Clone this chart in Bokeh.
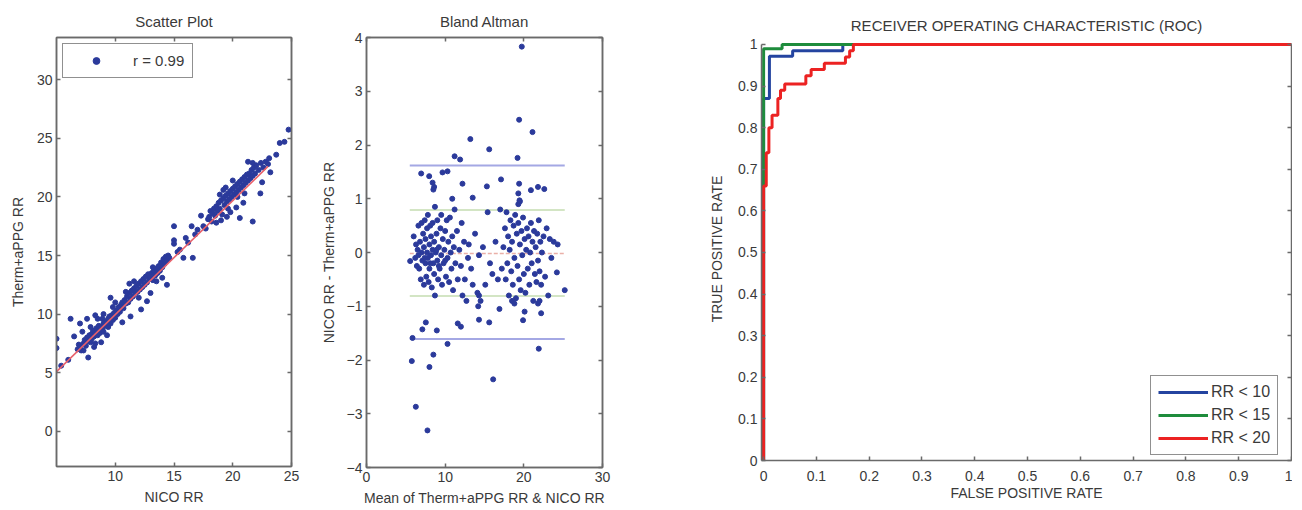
from bokeh.plotting import figure
from bokeh.layouts import row
from bokeh.models import LinearAxis, FixedTicker, Legend, LegendItem, Range1d
from bokeh.embed import file_html
from bokeh.resources import INLINE

# ---------------- data: scatter (NICO RR vs Therm+aPPG RR) ----------------
scatter_pairs = [
    (5.0, 7.9), (5.0, 7.1), (5.4, 5.6), (6.0, 6.1),
    (6.8, 7.0), (7.0, 7.2), (7.1, 6.9), (7.3, 7.5), (7.4, 7.8), (7.5, 7.3), (7.6, 8.0), (7.7, 7.7),
    (7.8, 8.2), (7.9, 7.6), (8.0, 8.3), (8.0, 7.9), (8.1, 8.6), (8.2, 8.1), (8.3, 8.4), (8.3, 7.5),
    (8.4, 8.8), (8.5, 8.2), (8.6, 8.6), (8.6, 9.0), (8.7, 8.4), (8.8, 8.9), (8.9, 8.7), (9.0, 9.2),
    (9.0, 8.5), (9.1, 9.4), (9.2, 9.0), (9.3, 9.3), (9.4, 9.6), (9.4, 8.9), (9.5, 9.8), (9.6, 9.2),
    (9.7, 9.9), (9.8, 9.5), (9.9, 10.1), (10.0, 9.7), (10.1, 10.3), (10.2, 10.0), (10.3, 10.6),
    (10.4, 10.2), (10.5, 10.8), (7.2, 8.5), (7.9, 8.9), (8.5, 9.6), (9.0, 10.0), (9.6, 11.4),
    (6.2, 9.6), (6.5, 8.1), (7.0, 9.2), (7.6, 9.6), (8.3, 9.9), (7.7, 6.3), (8.2, 7.2), (8.8, 7.6),
    (9.3, 8.2), (6.9, 7.4), (7.3, 6.9), (8.9, 9.6), (9.8, 10.6), (10.0, 11.0),
    (10.6, 11.0), (10.7, 10.5), (10.8, 11.2), (10.9, 10.9), (11.0, 11.5), (11.1, 11.0), (11.2, 11.8),
    (11.3, 11.3), (11.4, 12.0), (11.5, 11.5), (11.6, 12.2), (11.7, 11.8), (11.8, 12.4), (11.9, 11.9),
    (12.0, 12.6), (12.1, 12.1), (12.2, 12.8), (12.3, 12.3), (12.4, 13.0), (12.5, 12.5), (12.6, 13.2),
    (12.7, 12.7), (12.8, 13.4), (12.9, 13.0), (13.0, 13.1), (13.1, 13.5), (13.2, 12.9), (13.3, 13.7),
    (13.4, 13.3), (13.5, 13.9), (13.6, 13.5), (13.7, 14.1), (13.8, 13.7), (13.9, 14.4), (14.0, 14.0),
    (14.1, 14.7), (14.2, 14.3), (14.3, 14.9), (14.4, 14.6), (14.5, 15.0), (14.6, 14.8), (11.2, 12.6),
    (11.6, 12.8), (10.6, 9.3), (11.3, 9.8), (12.2, 10.4), (12.7, 11.1), (13.0, 11.8), (13.5, 12.8),
    (14.4, 12.5), (14.0, 13.1), (12.0, 11.4), (13.2, 14.0), (10.9, 11.9),
    (15.0, 17.5), (15.0, 16.3), (15.0, 16.0), (15.3, 15.3), (15.5, 15.5), (15.8, 14.8), (16.2, 16.1),
    (16.6, 14.8), (16.5, 17.5), (16.8, 16.8), (17.0, 17.2), (17.3, 18.4), (17.5, 17.5), (17.7, 17.3),
    (17.9, 18.1), (16.0, 16.5),
    (18.0, 18.3), (18.1, 18.8), (18.2, 17.9), (18.3, 18.6), (18.4, 19.0), (18.5, 18.4), (18.6, 19.2),
    (18.7, 18.8), (18.8, 19.5), (18.9, 19.0), (19.0, 19.7), (19.1, 18.5), (19.2, 19.9), (19.3, 19.3),
    (19.4, 20.1), (19.5, 19.6), (19.6, 20.3), (19.7, 19.8), (19.8, 20.5), (19.9, 20.0), (20.0, 20.7),
    (20.1, 20.2), (20.2, 20.9), (20.3, 20.4), (20.4, 21.1), (20.5, 20.6), (20.6, 21.3), (20.7, 20.8),
    (20.8, 21.5), (20.9, 21.0), (21.0, 21.7), (21.1, 21.2), (21.2, 21.9), (21.3, 21.4), (21.4, 22.0),
    (21.5, 21.6), (21.6, 22.3), (21.7, 21.8), (21.8, 22.5), (21.9, 22.0), (22.0, 22.7), (22.2, 22.3),
    (22.4, 22.9), (22.6, 22.5), (22.8, 23.0), (21.3, 23.0), (21.7, 22.9), (19.0, 18.0), (19.5, 18.3),
    (19.8, 18.7), (20.3, 19.1), (20.6, 18.2), (20.9, 19.5), (21.7, 17.9), (22.35, 20.3), (22.5, 21.25),
    (19.4, 20.8), (19.2, 20.6), (18.9, 20.2), (20.0, 21.4), (20.4, 20.0), (21.0, 20.3), (18.6, 17.8),
    (19.6, 19.0),
    (23.1, 23.3), (23.2, 22.1), (23.7, 23.6), (24.0, 24.6), (24.4, 24.7), (24.75, 25.74), (23.0, 22.8),
]
nico_rr = [a for a, b in scatter_pairs]
therm_rr = [b for a, b in scatter_pairs]
fit_x = [5.0, 23.0]
fit_y = [5.1, 22.6]
r_label = "r = 0.99"
scatter_xticks = [10, 15, 20, 25]
scatter_yticks = [0, 5, 10, 15, 20, 25, 30]

# ---------------- data: Bland-Altman ----------------
ba_pairs = [
    (6.0, 0.3), (6.2, -0.1), (6.3, 0.15), (6.4, -0.25), (6.5, 0.05), (6.6, 0.5), (6.7, -0.3),
    (6.8, 0.2), (6.9, -0.5), (7.0, 0.0), (7.0, 0.55), (7.1, -0.15), (7.2, 0.35), (7.3, -0.6),
    (7.3, 0.1), (7.4, 0.6), (7.5, -0.2), (7.5, 0.25), (7.6, -0.45), (7.7, 0.45), (7.7, 0.0),
    (7.8, -0.1), (7.8, 0.7), (7.9, -0.55), (8.0, 0.15), (8.0, -0.3), (8.1, 0.5), (8.2, -0.05),
    (8.2, 0.3), (8.3, -0.65), (8.4, 0.05), (8.4, 0.55), (8.5, -0.2), (8.6, 0.2), (8.6, -0.4),
    (8.7, 0.85), (8.8, 0.0), (8.7, -0.8), (8.9, 0.35), (9.0, -0.15), (9.0, 0.6), (9.1, -0.5),
    (9.2, 0.1), (9.3, -0.3), (9.4, 0.45), (9.5, -0.05), (9.5, 0.7), (9.6, -0.6), (9.7, 0.25),
    (9.8, -0.2), (9.9, 0.05), (10.0, 0.4), (10.1, -0.45), (10.2, 0.6), (10.3, -0.1), (10.4, 0.2),
    (10.5, -0.55), (10.6, 0.65), (10.7, 0.0), (10.8, -0.3), (10.9, 0.3), (11.0, -0.7), (11.1, 0.1),
    (11.2, 0.8), (11.3, -0.2), (11.5, 0.4), (11.6, -0.5), (11.8, 0.05), (12.0, -0.25), (12.1, 0.55),
    (12.2, -0.8), (12.4, 0.2), (12.5, -0.5), (12.7, -0.9), (12.9, -0.1), (13.0, 0.15), (13.3, -0.3),
    (13.5, -0.6), (7.4, -0.1), (8.1, -0.2), (9.2, -0.25), (10.0, -0.15), (6.6, -0.05), (8.9, 0.05),
    (13.8, 0.35), (14.1, -0.75), (14.3, -0.05), (14.5, -0.9), (14.8, 0.1), (15.1, -0.6), (15.4, 0.75),
    (15.7, -0.2), (16.0, -0.4), (16.4, 0.2), (16.7, -0.5), (17.0, 0.8), (17.2, -0.3), (17.4, 0.1),
    (17.6, 0.45), (17.7, -0.5), (17.8, 0.75), (17.9, -0.2), (18.0, 0.3), (18.1, -0.8), (18.2, 0.05),
    (18.3, 0.6), (18.4, -0.35), (18.5, 0.2), (18.6, -0.6), (18.7, 0.5), (18.8, -0.1), (18.9, 0.7),
    (19.0, -0.85), (19.1, 0.35), (19.2, -0.25), (19.3, 0.55), (19.3, 0.9), (19.4, -0.5), (19.5, 0.15),
    (19.5, 0.95), (19.6, -0.7), (19.7, 0.4), (19.8, -0.05), (19.9, 0.65), (20.0, -0.4), (20.1, 0.25),
    (20.2, -0.75), (20.3, 0.05), (20.4, 0.45), (20.5, -0.3), (20.6, 0.3), (20.7, -0.6), (20.8, 0.0),
    (20.9, 0.55), (21.0, -0.2), (21.1, 0.2), (21.2, -0.9), (21.3, 0.4), (21.4, -0.4), (21.5, 0.1),
    (21.6, -0.55), (21.7, 0.35), (21.8, -0.15), (21.9, 0.6), (22.0, -0.35), (22.1, 0.2), (22.2, -0.6),
    (22.3, 0.0), (22.5, 0.3), (22.7, -0.45), (22.9, 0.45), (23.1, -0.8), (23.3, 0.25), (23.5, -0.1),
    (23.8, 0.2), (24.3, 0.15),
    (19.74, 3.83), (19.4, 2.47), (21.1, 2.24), (13.2, 2.11), (15.6, 1.92), (19.2, 1.76), (11.2, 1.79),
    (11.9, 1.73), (6.95, 1.47), (7.97, 1.42), (9.66, 1.49), (10.3, 1.51), (8.4, 1.3), (8.6, 1.22),
    (8.5, 1.17), (12.2, 1.28), (15.3, 1.23), (17.1, 1.36), (19.4, 1.28), (20.9, 1.16), (21.8, 1.22),
    (22.6, 1.18), (13.5, 1.02), (10.9, 1.0), (19.3, 1.1), (19.45, 0.97),
    (5.76, -2.02), (6.27, -2.87), (7.75, -3.31), (8.0, -2.13), (8.5, -1.9), (5.85, -1.59), (7.54, -1.3),
    (7.1, -1.43), (8.94, -1.45), (10.3, -1.7), (11.6, -1.32), (12.0, -1.38), (14.3, -1.25), (15.6, -1.3),
    (16.1, -2.36), (19.9, -1.26), (21.9, -1.79), (16.9, -1.05), (25.2, -0.7), (24.2, -0.37), (22.2, -1.13),
    (20.1, -1.1), (5.55, -0.16), (14.2, -1.0), (14.3, -0.8), (18.5, -0.9), (18.8, -0.95), (21.8, -0.95),
    (22.0, -0.9),
]
ba_mean = [a for a, b in ba_pairs]
ba_diff = [b for a, b in ba_pairs]
ba_span = [5.5, 25.2]
ba_bias = -0.02
ba_sd1 = [0.79, -0.81]
ba_sd2 = [1.62, -1.61]
ba_xticks = [0, 10, 20, 30]
ba_yticks = [-4, -3, -2, -1, 0, 1, 2, 3, 4]

# ---------------- data: ROC ----------------
roc_labels = ["RR < 10", "RR < 15", "RR < 20"]
roc_fpr_10 = [0, 0, 0.011, 0.011, 0.055, 0.055, 0.15, 0.15, 1.0]
roc_tpr_10 = [0, 0.87, 0.87, 0.972, 0.972, 0.985, 0.985, 1.0, 1.0]
roc_fpr_15 = [0, 0, 0.035, 0.035, 1.0]
roc_tpr_15 = [0, 0.99, 0.99, 1.0, 1.0]
roc_fpr_20 = [0, 0, 0.005, 0.005, 0.01, 0.01, 0.016, 0.016, 0.027, 0.027, 0.032, 0.032, 0.04, 0.04,
              0.08, 0.08, 0.09, 0.09, 0.115, 0.115, 0.155, 0.155, 0.163, 0.163, 0.17, 0.17, 1.0]
roc_tpr_20 = [0, 0.66, 0.66, 0.74, 0.74, 0.8, 0.8, 0.83, 0.83, 0.87, 0.87, 0.89, 0.89, 0.905,
              0.905, 0.925, 0.925, 0.94, 0.94, 0.955, 0.955, 0.97, 0.97, 0.985, 0.985, 1.0, 1.0]
roc_ticks = [0, 0.1, 0.2, 0.3, 0.4, 0.5, 0.6, 0.7, 0.8, 0.9, 1.0]

FONT = "Liberation Sans"
TXT = "#3a3a3a"
AX = "#6a6a6a"
DOT = "#2b3a9b"
FS = "14px"


def ticks_only_axis(ticks, bounds=None):
    a = LinearAxis(ticker=FixedTicker(ticks=ticks))
    a.major_label_text_font_size = "0px"
    a.major_label_text_color = None
    a.major_label_standoff = 0
    a.major_tick_in = 4
    a.major_tick_out = 0
    a.minor_tick_line_color = None
    a.axis_line_color = AX
    a.axis_line_width = 1.5
    a.major_tick_line_color = AX
    a.major_tick_line_width = 1.5
    if bounds is not None:
        a.bounds = bounds
    return a


def style(p, xticks, yticks, overrides=None, top=True, ybounds=None):
    p.xgrid.visible = False
    p.ygrid.visible = False
    p.outline_line_color = AX if top else None
    p.outline_line_width = 1.5
    p.xaxis.ticker = FixedTicker(ticks=xticks)
    p.yaxis.ticker = FixedTicker(ticks=yticks)
    for ax in list(p.xaxis) + list(p.yaxis):
        ax.major_tick_in = 4
        ax.major_tick_out = 0
        ax.minor_tick_line_color = None
        ax.axis_line_color = AX
        ax.axis_line_width = 1.5
        ax.major_tick_line_color = AX
        ax.major_tick_line_width = 1.5
        ax.major_label_text_font = FONT
        ax.major_label_text_font_size = FS
        ax.major_label_text_color = TXT
        ax.axis_label_text_font = FONT
        ax.axis_label_text_font_size = FS
        ax.axis_label_text_font_style = "normal"
        ax.axis_label_text_color = TXT
        ax.major_label_standoff = 4
        if overrides:
            ax.major_label_overrides = overrides
    if ybounds is not None:
        p.yaxis[0].bounds = ybounds
    if top:
        p.add_layout(ticks_only_axis(xticks), "above")
    p.add_layout(ticks_only_axis(yticks, ybounds), "right")
    p.title.align = "center"
    p.title.text_font = FONT
    p.title.text_font_size = "15px"
    p.title.text_font_style = "normal"
    p.title.text_color = TXT


# ---------------- figure 1: scatter ----------------
p1 = figure(title="Scatter Plot", output_backend="svg", toolbar_location=None,
            frame_width=235, frame_height=429, min_border_left=56, min_border_right=13,
            min_border_top=37, min_border_bottom=35,
            x_range=Range1d(5, 25), y_range=Range1d(-3, 33.6),
            x_axis_label="NICO RR", y_axis_label="Therm+aPPG RR")
r_sc = p1.scatter(nico_rr, therm_rr, size=5, color=DOT)
p1.line(fit_x, fit_y, line_color="#e8606a", line_width=1.6)
style(p1, scatter_xticks, scatter_yticks)
p1.title.standoff = 15
p1.yaxis[0].axis_label_standoff = 8
p1.xaxis[0].major_label_standoff = 17
p1.xaxis[0].axis_label_standoff = -11
leg1 = Legend(items=[LegendItem(label=r_label, renderers=[r_sc])], location="top_left",
              margin=6, padding=8, glyph_width=50, glyph_height=17, label_standoff=12,
              label_text_font=FONT, label_text_font_size="15px", label_text_color=TXT,
              border_line_color="#222222", border_line_width=1)
p1.add_layout(leg1)

# ---------------- figure 2: Bland-Altman ----------------
p2 = figure(title="Bland Altman", output_backend="svg", toolbar_location=None,
            frame_width=236, frame_height=430, min_border_left=62, min_border_right=79,
            min_border_top=37, min_border_bottom=34,
            x_range=Range1d(0, 30), y_range=Range1d(-4, 4),
            x_axis_label="Mean of Therm+aPPG RR & NICO RR", y_axis_label="NICO RR - Therm+aPPG RR")
for v in ba_sd2:
    p2.line(ba_span, [v, v], line_color="#a4a8e4", line_width=2)
for v in ba_sd1:
    p2.line(ba_span, [v, v], line_color="#c4dcb0", line_width=1.5)
p2.line(ba_span, [ba_bias, ba_bias], line_color="#eab0a8", line_width=1.5, line_dash="4 2")
p2.scatter(ba_mean, ba_diff, size=5, color=DOT)
style(p2, ba_xticks, ba_yticks)
p2.title.standoff = 15
p2.yaxis[0].axis_label_standoff = 7
p2.xaxis[0].major_label_standoff = 14
p2.xaxis[0].axis_label_standoff = -10

# ---------------- figure 3: ROC ----------------
p3 = figure(title="RECEIVER OPERATING CHARACTERISTIC (ROC)", output_backend="svg", toolbar_location=None,
            frame_width=530, frame_height=423, min_border_left=80, min_border_right=1,
            min_border_top=37, min_border_bottom=41,
            x_range=Range1d(-0.004, 1), y_range=Range1d(0, 1.0168),
            x_axis_label="FALSE POSITIVE RATE", y_axis_label="TRUE POSITIVE RATE")
rb = p3.line(roc_fpr_10, roc_tpr_10, line_color="#2444a0", line_width=3)
rg = p3.line(roc_fpr_15, roc_tpr_15, line_color="#1e8c3c", line_width=3)
rr = p3.line(roc_fpr_20, roc_tpr_20, line_color="#ec2222", line_width=3)
style(p3, roc_ticks, roc_ticks, overrides={0: "0", 1: "1"}, top=False, ybounds=(0, 1))
p3.title.standoff = 7
p3.yaxis[0].axis_label_standoff = 10
p3.xaxis[0].major_label_standoff = 10
p3.xaxis[0].axis_label_standoff = 1
leg3 = Legend(items=[LegendItem(label=roc_labels[0], renderers=[rb]),
                     LegendItem(label=roc_labels[1], renderers=[rg]),
                     LegendItem(label=roc_labels[2], renderers=[rr])],
              location=(389, 5), padding=7, spacing=5,
              glyph_width=50, glyph_height=18, label_standoff=3, label_width=58,
              label_text_font=FONT, label_text_font_size="16px", label_text_color=TXT,
              border_line_color="#222222", border_line_width=1)
p3.add_layout(leg3)

layout = row(p1, p2, p3, width=1292)
open("out.html", "w").write(file_html(layout, INLINE))
